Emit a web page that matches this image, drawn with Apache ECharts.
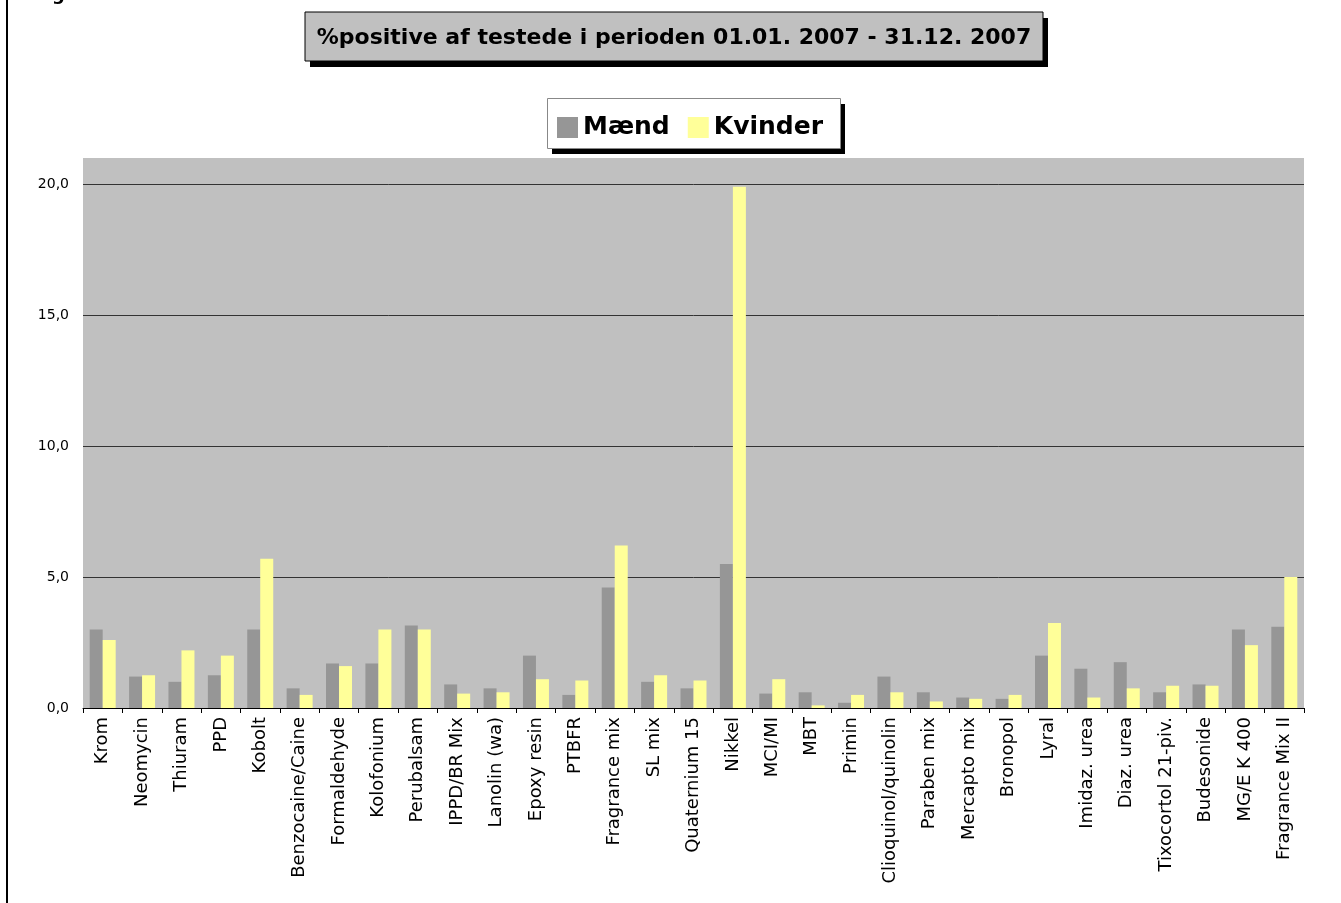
<!DOCTYPE html>
<html>
<head>
<meta charset="utf-8">
<script src="https://cdn.jsdelivr.net/npm/echarts@6/dist/echarts.min.js"></script>
<style>
html,body{margin:0;padding:0;background:#fff;}
#chart{width:1341px;height:903px;}
</style>
</head>
<body>
<div id="chart"></div>
<script>
const titleText = '%positive af testede i perioden 01.01. 2007 - 31.12. 2007';
const seriesNames = ['Mænd', 'Kvinder'];
const categories = ['Krom', 'Neomycin', 'Thiuram', 'PPD', 'Kobolt', 'Benzocaine/Caine', 'Formaldehyde', 'Kolofonium', 'Perubalsam', 'IPPD/BR Mix', 'Lanolin (wa)', 'Epoxy resin', 'PTBFR', 'Fragrance mix', 'SL mix', 'Quaternium 15', 'Nikkel', 'MCI/MI', 'MBT', 'Primin', 'Clioquinol/quinolin', 'Paraben mix', 'Mercapto mix', 'Bronopol', 'Lyral', 'Imidaz. urea', 'Diaz. urea', 'Tixocortol 21-piv.', 'Budesonide', 'MG/E K 400', 'Fragrance Mix II'];
const maend = [3.0, 1.2, 1.0, 1.25, 3.0, 0.75, 1.7, 1.7, 3.15, 0.9, 0.75, 2.0, 0.5, 4.6, 1.0, 0.75, 5.5, 0.55, 0.6, 0.2, 1.2, 0.6, 0.4, 0.35, 2.0, 1.5, 1.75, 0.6, 0.9, 3.0, 3.1];
const kvinder = [2.6, 1.25, 2.2, 2.0, 5.7, 0.5, 1.6, 3.0, 3.0, 0.55, 0.6, 1.1, 1.05, 6.2, 1.25, 1.05, 19.9, 1.1, 0.1, 0.5, 0.6, 0.25, 0.35, 0.5, 3.25, 0.4, 0.75, 0.85, 0.85, 2.4, 5.0];

const FONT = 'DejaVu Sans';
const chart = echarts.init(document.getElementById('chart'), null, {renderer: 'canvas'});
chart.setOption({
  animation: false,
  backgroundColor: '#ffffff',
  title: {
    text: titleText,
    left: 674,
    top: 26,
    textAlign: 'center',
    padding: 0,
    textStyle: {fontFamily: FONT, fontWeight: 'bold', fontSize: 22, color: '#000', lineHeight: 24}
  },
  legend: {
    data: seriesNames,
    left: 557,
    top: 115,
    padding: 0,
    itemWidth: 21,
    itemHeight: 21,
    itemGap: 18,
    icon: 'rect',
    textStyle: {fontFamily: FONT, fontWeight: 'bold', fontSize: 25, color: '#000'}
  },
  graphic: [
    {type: 'line', shape: {x1: 7, y1: 0, x2: 7, y2: 903}, style: {stroke: '#000', lineWidth: 2}},
    {type: 'text', left: 52, top: -14, style: {text: 'g', font: 'bold 18px DejaVu Sans', fill: '#000'}},
    {type: 'rect', shape: {x: 310, y: 18, width: 738, height: 49}, style: {fill: '#000'}},
    {type: 'rect', shape: {x: 305, y: 12, width: 738, height: 49}, style: {fill: '#c0c0c0', stroke: '#000', lineWidth: 1}},
    {type: 'rect', shape: {x: 552, y: 104, width: 293, height: 50}, style: {fill: '#000'}},
    {type: 'rect', shape: {x: 547.5, y: 98.5, width: 293, height: 50}, style: {fill: '#fff', stroke: '#888', lineWidth: 1}}
  ],
  grid: {
    left: 83, right: 37, top: 158, bottom: 195,
    show: true, backgroundColor: '#c0c0c0', borderWidth: 0
  },
  xAxis: {
    type: 'category',
    data: categories,
    axisLine: {show: true, lineStyle: {color: '#000', width: 1}},
    axisTick: {show: true, alignWithLabel: false, length: 5, lineStyle: {color: '#000'}},
    axisLabel: {rotate: 90, interval: 0, margin: 9, fontFamily: FONT, fontSize: 18, color: '#000'},
    splitLine: {show: false}
  },
  yAxis: {
    type: 'value',
    min: 0, max: 21, interval: 5,
    axisLine: {show: false},
    axisTick: {show: false},
    axisLabel: {
      showMaxLabel: false, margin: 14,
      fontFamily: FONT, fontSize: 14, color: '#000',
      formatter: v => v.toFixed(1).replace('.', ',')
    },
    splitLine: {show: true, showMaxLine: false, lineStyle: {color: '#333', width: 1}}
  },
  series: [
    {name: seriesNames[0], type: 'bar', data: maend, barGap: '0%', barCategoryGap: '34%', itemStyle: {color: '#969696'}},
    {name: seriesNames[1], type: 'bar', data: kvinder, barGap: '0%', barCategoryGap: '34%', itemStyle: {color: '#ffff99'}}
  ]
});
</script>
</body>
</html>
